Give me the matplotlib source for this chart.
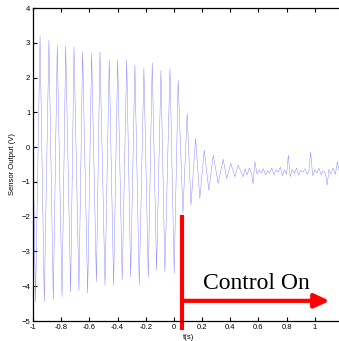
import numpy as np
import matplotlib
matplotlib.use("Agg")
import matplotlib.pyplot as plt

# Oscillation maxima (time s, value V)
peak_t = [-0.950, -0.887, -0.828, -0.768, -0.709, -0.648, -0.584, -0.525, -0.459,
          -0.399, -0.335, -0.277, -0.213, -0.154, -0.092, -0.028, 0.030, 0.094,
          0.154, 0.215, 0.279, 0.350, 0.404, 0.456]
peak_v = [3.20, 3.07, 2.91, 2.90, 2.88, 2.74, 2.69, 2.74, 2.50,
          2.50, 2.50, 2.36, 2.26, 2.42, 2.20, 2.26, 1.93, 0.97,
          0.25, -0.09, -0.23, -0.35, -0.47, -0.52]
# Oscillation minima
trough_t = [-0.982, -0.920, -0.856, -0.794, -0.733, -0.674, -0.612, -0.550, -0.489,
            -0.428, -0.367, -0.307, -0.246, -0.182, -0.123, -0.064, 0.002, 0.064,
            0.121, 0.184, 0.248, 0.314, 0.374, 0.433, 0.491]
trough_v = [-4.45, -4.44, -4.38, -4.30, -4.16, -4.13, -4.19, -3.87, -3.97,
            -3.97, -3.82, -3.73, -3.97, -3.73, -3.53, -3.58, -3.63, -1.90,
            -1.67, -1.47, -1.24, -1.04, -0.90, -0.85, -0.85]
# Start sample
start_t = [-1.0]
start_v = [0.0]
# Settled (controlled) tail samples
tail_t = [0.505, 0.520, 0.535, 0.550, 0.562, 0.575, 0.590, 0.605, 0.620, 0.635,
          0.650, 0.665, 0.680, 0.695, 0.710, 0.725, 0.740, 0.755, 0.770, 0.785,
          0.800, 0.812, 0.825, 0.840, 0.855, 0.870, 0.885, 0.900, 0.915, 0.930,
          0.945, 0.958, 0.970, 0.985, 1.000, 1.015, 1.030, 1.045, 1.060, 1.075,
          1.088, 1.100, 1.115, 1.130, 1.145, 1.160, 1.175, 1.190]
tail_v = [-0.62, -0.80, -0.60, -0.74, -1.05, -0.42, -0.78, -0.66, -0.75, -0.62,
          -0.80, -0.68, -0.74, -0.60, -0.79, -0.65, -0.72, -0.58, -0.82, -0.66,
          -0.78, -0.23, -0.85, -0.64, -0.76, -0.60, -0.80, -0.67, -0.72, -0.62,
          -0.78, -0.70, -0.14, -0.82, -0.66, -0.74, -0.61, -0.80, -0.68, -0.75,
          -1.09, -0.64, -0.77, -0.60, -0.79, -0.42, -0.75, -0.70]

xticks = [-1, -0.8, -0.6, -0.4, -0.2, 0, 0.2, 0.4, 0.6, 0.8, 1]
xticklabels = ["-1", "-0.8", "-0.6", "-0.4", "-0.2", "0", "0.2", "0.4", "0.6", "0.8", "1"]
yticks = [-5, -4, -3, -2, -1, 0, 1, 2, 3, 4]

t_all = np.array(start_t + peak_t + trough_t + tail_t)
v_all = np.array(start_v + peak_v + trough_v + tail_v)
order = np.argsort(t_all)
t_all, v_all = t_all[order], v_all[order]

plt.rcParams['font.family'] = ['Liberation Sans', 'DejaVu Sans']
fig = plt.figure(figsize=(3.39, 3.41), dpi=100)
ax = fig.add_axes([33/339, 1 - 321/341, (343 - 33)/339, (321 - 8)/341])
ax.plot(t_all, v_all, color='#7a7aff', lw=0.3)

ax.set_xlim(-1, 1.2)
ax.set_ylim(-5, 4)
ax.set_xticks(xticks)
ax.set_xticklabels(xticklabels)
ax.set_yticks(yticks)
ax.tick_params(direction='in', length=3, width=0.8, labelsize=5.5, pad=2,
               top=True, right=False)
for s in ax.spines.values():
    s.set_linewidth(0.9)
ax.set_xlabel('t(s)', fontsize=5.5, labelpad=2)
ax.set_ylabel('Sensor Output (V)', fontsize=5.5, labelpad=4)

# Control annotation
ax.plot([0.06, 0.06], [-1.95, -5.25], color='red', lw=3, solid_capstyle='butt', clip_on=False)
ax.annotate('', xy=(1.105, -4.42), xytext=(0.06, -4.42),
            arrowprops=dict(arrowstyle='-|>,head_length=0.9,head_width=0.42',
                            color='red', lw=3, shrinkA=0, shrinkB=0))
ax.text(0.585, -3.92, 'Control On', fontsize=17, family='Liberation Serif',
        ha='center', va='center', color='black')

fig.savefig('out.png', dpi=100)
